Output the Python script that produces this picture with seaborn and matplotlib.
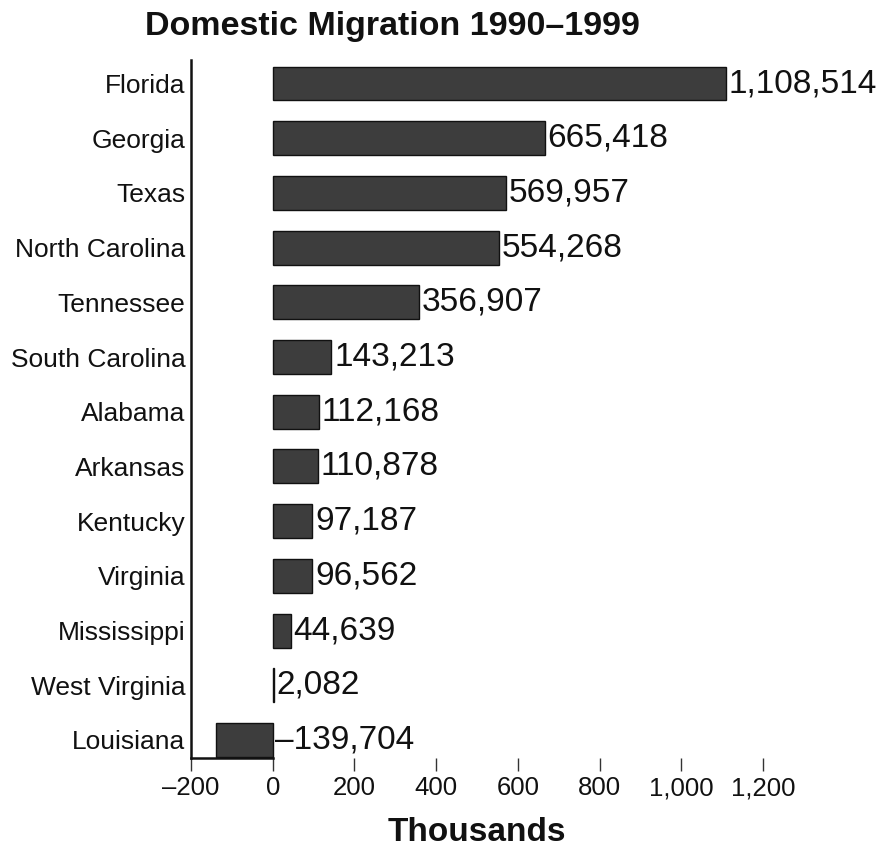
import matplotlib
matplotlib.use("Agg")
import matplotlib.pyplot as plt
import seaborn as sns
import pandas as pd
from matplotlib import font_manager

states = ["Florida", "Georgia", "Texas", "North Carolina", "Tennessee",
          "South Carolina", "Alabama", "Arkansas", "Kentucky", "Virginia",
          "Mississippi", "West Virginia", "Louisiana"]
migration = [1108514, 665418, 569957, 554268, 356907, 143213, 112168,
             110878, 97187, 96562, 44639, 2082, -139704]
xticks = [-200, 0, 200, 400, 600, 800, 1000, 1200]
xticklabels = ["\u2013200", "0", "200", "400", "600", "800", "1,000", "1,200"]
title = "Domestic Migration 1990\u20131999"
xlabel = "Thousands"

sns.set_theme(style="white")
plt.rcParams["font.family"] = ["Liberation Sans", "DejaVu Sans"]

df = pd.DataFrame({"state": states, "thousands": [v / 1000 for v in migration]})

fig = plt.figure(figsize=(8.81, 8.48), dpi=100)
ax = fig.add_axes([191 / 881, 1 - 758 / 848, (763 - 191) / 881, (758 - 60) / 848])

sns.barplot(data=df, x="thousands", y="state", orient="h", color="#3d3d3d",
            saturation=1, width=0.62, edgecolor="#111111", linewidth=1.0, ax=ax)

ax.set_xlim(-200, 1200)
ax.set_ylim(12.33, -0.43)

for i, v in enumerate(migration):
    xv = max(v / 1000, 0)
    label = f"{abs(v):,}"
    if v < 0:
        label = "\u2013" + label
    ax.annotate(label, xy=(xv, i), xytext=(2, 0), textcoords="offset points",
                va="center", ha="left", fontsize=24, color="#111111",
                annotation_clip=False)

ax.set_xticks(xticks)
ax.set_xticklabels(xticklabels, fontsize=18.5, color="#111111")
ax.tick_params(axis="x", direction="out", length=9, width=1, color="#333333", pad=4, bottom=True)
ax.tick_params(axis="y", length=0, pad=4)
for lab in ax.get_yticklabels():
    lab.set_fontsize(19)
    lab.set_color("#111111")

ax.set_ylabel("")
ax.set_xlabel(xlabel, fontsize=24, fontweight="bold", color="#111111", labelpad=12)

for s in ["top", "right"]:
    ax.spines[s].set_visible(False)
ax.spines["left"].set_color("#111111")
ax.spines["left"].set_linewidth(1.8)
ax.spines["bottom"].set_color("#111111")
ax.spines["bottom"].set_linewidth(1.8)
ax.spines["bottom"].set_bounds(-200, 0)

fig.text(392 / 881, 1 - 27 / 848, title, ha="center", va="center",
         fontsize=24.5, fontweight="bold", color="#111111")

fig.savefig("out.png", dpi=100, facecolor="white")
